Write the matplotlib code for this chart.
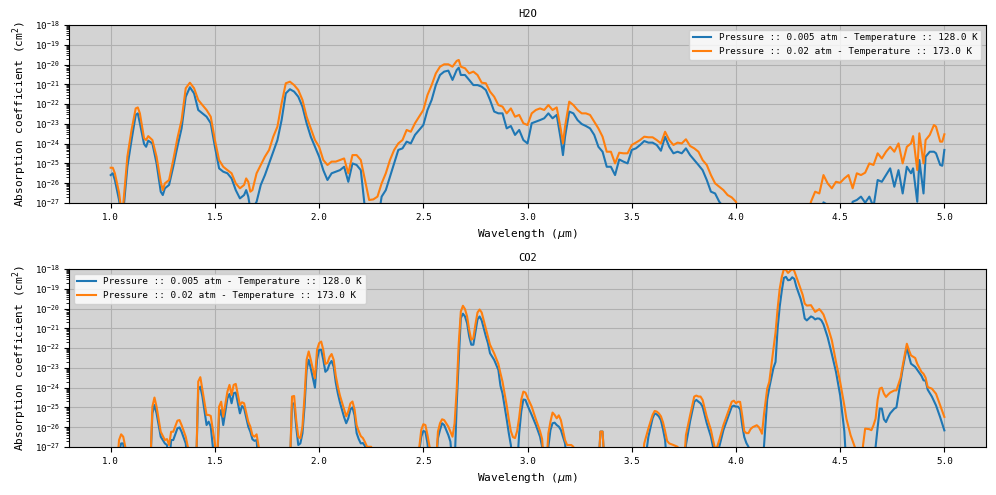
# Espectros de absorcion H2O / CO2 a dos condiciones de presion y temperatura

import numpy as np
import matplotlib.pyplot as plt

plt.rcParams['font.family'] = 'DejaVu Sans Mono'
plt.rcParams['font.size'] = 8

etiqueta_baja = "Pressure :: 0.005 atm - Temperature :: 128.0 K"
etiqueta_alta = "Pressure :: 0.02 atm - Temperature :: 173.0 K"

# ---------------------------------------------------------------------------
# H2O  (valores en log10 de cm^2, -28 = fuera de la grafica)
wl_h2o = [1.00, 1.01, 1.02, 1.04, 1.05, 1.06, 1.08, 1.10, 1.12, 1.13, 1.14, 1.16, 1.17, 1.18, 1.20,
          1.22, 1.24, 1.25, 1.26, 1.28, 1.30, 1.32, 1.34, 1.36, 1.38, 1.40, 1.42, 1.44, 1.46, 1.48,
          1.50, 1.52, 1.54, 1.56, 1.58, 1.60, 1.62, 1.64, 1.65, 1.66, 1.67, 1.68, 1.70, 1.72, 1.74, 1.76,
          1.78, 1.80, 1.82, 1.84, 1.86, 1.88, 1.90, 1.92, 1.94, 1.96, 1.98, 2.00, 2.02, 2.04, 2.06,
          2.08, 2.10, 2.12, 2.14, 2.16, 2.18, 2.20, 2.22, 2.24, 2.26, 2.28, 2.30, 2.32, 2.34, 2.36,
          2.38, 2.40, 2.42, 2.44, 2.46, 2.48, 2.50, 2.52, 2.54, 2.56, 2.58, 2.60, 2.62, 2.64, 2.66,
          2.67, 2.68, 2.70, 2.72, 2.74, 2.76, 2.78, 2.80, 2.82, 2.84, 2.86, 2.88, 2.90, 2.92, 2.94,
          2.96, 2.98, 3.00, 3.02, 3.04, 3.06, 3.08, 3.10, 3.12, 3.14, 3.16, 3.17, 3.18, 3.20, 3.22,
          3.24, 3.26, 3.28, 3.30, 3.32, 3.34, 3.36, 3.38, 3.40, 3.42, 3.44, 3.46, 3.48, 3.50, 3.52,
          3.54, 3.56, 3.58, 3.60, 3.62, 3.64, 3.66, 3.68, 3.70, 3.72, 3.74, 3.76, 3.78, 3.80, 3.82,
          3.84, 3.86, 3.88, 3.90, 3.92, 3.94, 3.96, 3.98, 4.00, 4.01, 4.34, 4.36, 4.38, 4.40,
          4.42, 4.44, 4.46, 4.48, 4.50, 4.52, 4.54, 4.56, 4.58, 4.60, 4.62, 4.64, 4.66, 4.68, 4.70,
          4.72, 4.74, 4.76, 4.78, 4.80, 4.82, 4.84, 4.85, 4.87, 4.88, 4.90, 4.91, 4.93, 4.95, 4.96, 4.98, 4.99, 5.00]

h2o_alta = [-25.22, -25.22, -25.50, -26.48, -27.3, -27.1, -24.66, -23.31, -22.22, -22.17, -22.47, -23.73, -23.82, -23.62, -23.82,
            -24.66, -25.93, -26.35, -26.01, -25.84, -24.83, -23.73, -22.81, -21.20, -20.92, -21.20, -21.79, -22.05, -22.30, -22.64,
            -23.82, -24.83, -25.17, -25.34, -25.50, -26.01, -26.26, -26.09, -25.76, -25.93, -26.43, -26.35, -25.50, -25.08, -24.66, -24.32,
            -23.65, -23.14, -21.96, -20.95, -20.87, -21.04, -21.29, -21.79, -22.64, -23.23, -23.82, -24.16, -24.83, -25.08, -24.91,
            -24.91, -24.83, -24.75, -25.50, -24.58, -24.58, -24.83, -25.84, -26.85, -26.82, -26.68, -26.01, -25.50, -24.83, -24.32,
            -23.99, -23.82, -23.31, -23.40, -22.97, -22.64, -22.30, -21.54, -21.04, -20.45, -20.11, -19.99, -19.99, -20.11, -19.82,
            -19.77, -20.11, -20.19, -20.45, -20.36, -20.53, -20.92, -20.95, -21.37, -21.63, -22.05, -22.13, -22.47, -22.22, -22.64,
            -22.55, -22.97, -23.06, -22.47, -22.30, -22.22, -22.30, -22.05, -22.30, -22.17, -23.31, -23.99, -23.14, -21.88, -22.05,
            -22.30, -22.47, -22.47, -22.55, -22.89, -23.23, -23.65, -24.41, -24.41, -25.00, -24.46, -24.49, -24.49, -24.07, -23.95,
            -23.82, -23.65, -23.68, -23.68, -23.82, -23.99, -23.40, -23.82, -24.07, -23.95, -23.99, -23.78, -24.12, -24.24, -24.41,
            -24.83, -25.08, -25.59, -26.01, -26.18, -26.35, -26.60, -26.72, -26.94, -27.3, -28.0, -26.94, -26.43, -26.52,
            -25.59, -26.01, -26.26, -25.93, -25.98, -25.76, -25.59, -26.26, -25.50, -25.59, -25.47, -25.00, -25.08, -24.49, -24.75,
            -24.41, -24.16, -24.41, -23.99, -25.00, -24.16, -23.99, -23.62, -25.34, -23.48, -25.00, -23.82, -23.56, -23.06, -23.14, -23.90, -23.90, -23.53]

h2o_baja = [-25.59, -25.50, -25.84, -26.85, -27.5, -27.5, -25.17, -23.82, -22.55, -22.47, -22.97, -24.02, -24.16, -23.85, -23.99,
            -25.00, -26.43, -26.60, -26.26, -26.09, -25.17, -24.16, -23.23, -21.63, -21.15, -21.46, -22.30, -22.47, -22.64, -22.97,
            -24.16, -25.25, -25.42, -25.50, -25.76, -26.35, -26.77, -26.60, -26.35, -26.68, -27.3, -27.3, -26.94, -26.09, -25.59, -25.00,
            -24.41, -23.82, -22.81, -21.46, -21.25, -21.37, -21.63, -22.13, -22.97, -23.65, -24.16, -24.66, -25.34, -25.84, -25.50,
            -25.42, -25.34, -25.17, -25.93, -25.00, -25.08, -25.34, -27.3, -28.0, -28.0, -28.0, -26.68, -26.35, -25.67, -25.00,
            -24.32, -24.24, -23.90, -23.99, -23.56, -23.31, -23.06, -22.30, -21.79, -21.04, -20.53, -20.36, -20.31, -20.78, -20.28,
            -20.16, -20.53, -20.53, -20.78, -21.04, -21.04, -21.12, -21.29, -21.79, -22.38, -22.47, -22.47, -23.23, -23.11, -23.56,
            -23.31, -23.82, -23.99, -22.97, -22.89, -22.81, -22.72, -22.47, -22.72, -22.55, -23.82, -24.58, -23.65, -22.38, -22.47,
            -22.81, -23.01, -23.11, -23.23, -23.56, -24.16, -24.41, -25.17, -25.17, -25.59, -24.80, -24.91, -25.00, -24.32, -24.24,
            -24.07, -23.87, -23.95, -23.95, -24.07, -24.36, -23.65, -24.16, -24.49, -24.41, -24.49, -24.24, -24.58, -24.83, -25.08,
            -25.34, -25.84, -26.43, -26.52, -26.94, -27.2, -28.0, -28.0, -28.0, -28.0, -28.0, -28.0, -28.0, -28.0,
            -26.97, -27.1, -28.0, -28.0, -28.0, -28.0, -28.0, -26.94, -26.85, -26.68, -26.99, -26.68, -27.2, -25.84, -25.93,
            -25.59, -25.25, -26.18, -25.34, -26.52, -25.17, -25.50, -25.25, -26.94, -24.83, -26.52, -24.66, -24.41, -24.41, -24.49, -25.08, -25.12, -24.32]

# ---------------------------------------------------------------------------
# CO2
wl_co2 = [1.00, 1.03, 1.04, 1.05, 1.06, 1.07, 1.08, 1.19, 1.20, 1.21, 1.22, 1.24, 1.26, 1.27, 1.28,
          1.29, 1.30, 1.32, 1.33, 1.34, 1.36, 1.37, 1.38, 1.41, 1.42, 1.43, 1.44, 1.46, 1.47, 1.48,
          1.50, 1.51, 1.52, 1.53, 1.54, 1.56, 1.57, 1.58, 1.59, 1.60, 1.62, 1.63, 1.64, 1.66, 1.67,
          1.68, 1.69, 1.70, 1.71, 1.72, 1.86, 1.87, 1.88, 1.89, 1.90, 1.91, 1.92, 1.93, 1.94, 1.95,
          1.96, 1.98, 1.99, 2.00, 2.01, 2.02, 2.03, 2.04, 2.05, 2.06, 2.07, 2.08, 2.09, 2.10, 2.12,
          2.13, 2.14, 2.15, 2.16, 2.17, 2.18, 2.19, 2.20, 2.21, 2.22, 2.23, 2.25, 2.26, 2.47, 2.49,
          2.50, 2.51, 2.52, 2.53, 2.56, 2.57, 2.58, 2.59, 2.60, 2.61, 2.62, 2.63, 2.64, 2.65, 2.66,
          2.67, 2.68, 2.69, 2.70, 2.71, 2.72, 2.73, 2.74, 2.75, 2.76, 2.77, 2.78, 2.80, 2.81, 2.82,
          2.84, 2.86, 2.87, 2.88, 2.90, 2.91, 2.92, 2.93, 2.94, 2.95, 2.96, 2.97, 2.98, 2.99, 3.00,
          3.02, 3.04, 3.06, 3.07, 3.08, 3.09, 3.10, 3.11, 3.12, 3.13, 3.14, 3.15, 3.16, 3.17, 3.18,
          3.19, 3.21, 3.22, 3.23, 3.34, 3.35, 3.36, 3.37, 3.55, 3.56, 3.58, 3.60, 3.61, 3.62, 3.63,
          3.64, 3.65, 3.66, 3.67, 3.68, 3.70, 3.72, 3.73, 3.75, 3.76, 3.78, 3.80, 3.81, 3.82, 3.83,
          3.84, 3.86, 3.88, 3.89, 3.90, 3.91, 3.92, 3.94, 3.96, 3.98, 3.99, 4.00, 4.01, 4.02, 4.03,
          4.04, 4.05, 4.06, 4.07, 4.08, 4.10, 4.11, 4.12, 4.125, 4.135, 4.15, 4.16, 4.18, 4.19, 4.20,
          4.21, 4.22, 4.23, 4.24, 4.25, 4.26, 4.27, 4.28, 4.29, 4.30, 4.31, 4.32, 4.33, 4.34, 4.36,
          4.37, 4.38, 4.39, 4.40, 4.41, 4.42, 4.44, 4.46, 4.48, 4.50, 4.52, 4.53, 4.55, 4.57, 4.58,
          4.60, 4.61, 4.62, 4.64, 4.65, 4.66, 4.67, 4.68, 4.69, 4.70, 4.71, 4.72, 4.73, 4.74, 4.76,
          4.77, 4.79, 4.80, 4.82, 4.83, 4.84, 4.86, 4.87, 4.89, 4.90, 4.91, 4.92, 4.94, 4.96, 4.98, 5.00]

co2_alta = [-28.0, -28.0, -26.65, -26.36, -26.48, -26.99, -28.0, -28.0, -24.96, -24.50, -24.96, -26.23, -26.65, -26.60, -26.90,
            -26.23, -26.23, -25.67, -25.64, -25.89, -26.48, -26.99, -28.0, -28.0, -23.69, -23.47, -24.11, -25.38, -25.38, -25.43,
            -26.82, -28.0, -24.96, -24.71, -25.47, -24.20, -23.86, -24.37, -23.86, -23.81, -24.88, -24.74, -24.79, -25.72, -25.97,
            -26.40, -26.48, -26.36, -26.99, -28.0, -28.0, -24.45, -24.42, -25.64, -26.48, -26.56, -25.97, -24.45, -22.59, -22.17,
            -22.59, -23.52, -22.09, -21.75, -21.67, -22.09, -22.80, -22.75, -22.45, -22.30, -22.60, -23.40, -23.95, -24.40, -25.10,
            -25.45, -25.20, -24.80, -24.70, -25.10, -25.90, -26.20, -26.45, -26.55, -26.75, -26.99, -26.99, -28.0, -28.0, -26.14,
            -25.85, -25.89, -26.40, -26.99, -28.0, -26.23, -25.80, -25.60, -25.64, -25.80, -25.97, -26.23, -26.48, -25.80, -24.11,
            -21.75, -20.15, -19.86, -20.03, -20.40, -21.07, -21.58, -21.50, -20.80, -20.20, -20.05, -20.20, -21.00, -21.42, -21.83,
            -22.27, -22.80, -23.27, -23.70, -24.90, -25.60, -26.20, -26.50, -26.55, -26.20, -25.50, -24.60, -24.20, -24.25, -24.50,
            -24.96, -25.60, -26.20, -26.60, -28.0, -28.0, -26.31, -25.72, -25.26, -25.38, -25.55, -25.40, -25.64, -26.14, -26.65,
            -26.90, -26.90, -26.99, -28.0, -28.0, -26.22, -26.22, -28.0, -28.0, -26.82, -26.06, -25.38, -25.18, -25.21, -25.30,
            -25.45, -25.75, -26.20, -26.70, -26.82, -26.90, -26.99, -28.0, -28.0, -26.40, -25.40, -24.45, -24.40, -24.45, -24.45,
            -24.62, -25.47, -26.14, -26.65, -27.10, -26.99, -26.65, -25.89, -25.30, -24.71, -24.66, -24.79, -24.71, -24.72, -25.40,
            -26.20, -26.30, -26.30, -26.10, -26.00, -25.90, -26.00, -26.20, -26.33, -25.30, -24.05, -23.70, -22.03, -21.20, -20.00,
            -19.00, -18.40, -18.00, -18.05, -18.20, -18.10, -18.00, -18.10, -18.40, -18.70, -19.00, -19.30, -19.75, -19.85, -19.83,
            -20.00, -20.17, -20.10, -20.03, -20.15, -20.30, -20.90, -21.60, -22.70, -23.71, -24.90, -25.57, -26.40, -26.99, -28.0,
            -28.0, -26.90, -26.07, -26.10, -26.15, -25.90, -25.57, -24.60, -24.05, -24.00, -24.30, -24.47, -24.35, -24.25, -24.14,
            -24.14, -23.50, -22.90, -21.78, -22.10, -22.37, -22.50, -22.80, -23.20, -23.30, -23.50, -23.97, -24.05, -24.31, -24.90, -25.48]

co2_baja = [-28.0, -28.0, -27.3, -26.82, -26.82, -28.0, -28.0, -28.0, -25.30, -24.88, -25.30, -26.48, -26.82, -26.90, -28.0,
            -26.65, -26.65, -26.06, -26.01, -26.23, -26.82, -28.0, -28.0, -28.0, -24.11, -23.95, -24.45, -25.89, -25.72, -25.97,
            -28.0, -28.0, -25.47, -25.13, -25.89, -24.54, -24.32, -24.79, -24.28, -24.25, -25.30, -24.93, -25.04, -25.97, -26.23,
            -26.61, -26.69, -26.65, -28.0, -28.0, -28.0, -24.82, -24.79, -25.97, -26.90, -26.82, -26.31, -24.96, -23.10, -22.59,
            -23.02, -24.00, -22.59, -22.09, -22.09, -22.59, -23.20, -23.10, -22.80, -22.65, -22.95, -23.75, -24.30, -24.75, -25.50,
            -25.80, -25.55, -25.10, -25.00, -25.40, -26.30, -26.60, -26.82, -26.80, -26.95, -28.0, -28.0, -28.0, -28.0, -26.48,
            -26.19, -26.23, -26.82, -28.0, -28.0, -26.56, -26.14, -25.80, -25.89, -26.14, -26.40, -26.73, -28.0, -28.0, -24.88,
            -22.59, -20.48, -20.26, -20.40, -20.74, -21.41, -21.83, -21.83, -21.20, -20.55, -20.40, -20.60, -21.40, -21.75, -22.26,
            -22.60, -23.10, -23.90, -24.30, -25.60, -26.30, -26.90, -28.0, -28.0, -28.0, -26.30, -25.20, -24.60, -24.62, -24.90,
            -25.38, -25.89, -26.48, -26.99, -28.0, -28.0, -26.99, -26.14, -25.80, -25.77, -25.89, -25.97, -26.14, -26.48, -26.82,
            -28.0, -28.0, -28.0, -28.0, -28.0, -26.22, -26.22, -28.0, -28.0, -28.0, -26.48, -25.55, -25.30, -25.35, -25.45,
            -25.65, -26.10, -26.65, -28.0, -28.0, -28.0, -28.0, -28.0, -28.0, -26.90, -25.70, -24.71, -24.62, -24.71, -24.79,
            -24.96, -25.80, -26.48, -26.99, -28.0, -28.0, -26.99, -26.14, -25.55, -24.96, -24.91, -24.96, -24.96, -25.10, -25.90,
            -26.50, -26.80, -26.99, -28.0, -28.0, -28.0, -28.0, -28.0, -28.0, -26.90, -24.60, -24.00, -23.00, -22.70, -21.00,
            -19.90, -19.10, -18.45, -18.40, -18.57, -18.55, -18.42, -18.50, -18.90, -19.20, -19.50, -19.90, -20.50, -20.60, -20.40,
            -20.45, -20.55, -20.50, -20.51, -20.60, -20.80, -21.45, -22.30, -23.20, -24.39, -26.20, -28.0, -28.0, -28.0, -28.0,
            -28.0, -28.0, -28.0, -28.0, -28.0, -28.0, -26.99, -26.00, -25.06, -25.06, -25.60, -25.74, -25.50, -25.30, -25.06,
            -25.00, -23.71, -23.04, -21.94, -22.40, -22.79, -22.95, -23.10, -23.40, -23.63, -23.65, -24.10, -24.45, -24.90, -25.50, -26.16]


def dibujar(ax, wl, baja, alta, titulo, pos_leyenda):
    ax.plot(wl, 10.0 ** np.array(baja), label=etiqueta_baja)
    ax.plot(wl, 10.0 ** np.array(alta), label=etiqueta_alta)
    ax.set_yscale('log')
    ax.set_ylim(1e-27, 1e-18)
    ax.set_xlim(0.8, 5.2)
    ax.set_facecolor('lightgray')
    ax.grid(True)
    ax.set_axisbelow(True)
    ax.set_title(titulo, fontsize=7.5)
    ax.set_xlabel(r'Wavelength ($\mu$m)', fontsize=8)
    ax.set_ylabel(r'Absorption coefficient (cm$^2$)', fontsize=8)
    ax.tick_params(labelsize=6.7)
    ax.legend(loc=pos_leyenda, fontsize=6.7)


fig = plt.figure(figsize=(9.96, 4.95), dpi=100)
ax1 = fig.add_axes([0.0693, 0.590, 0.9207, 0.3596])
ax2 = fig.add_axes([0.0693, 0.097, 0.9207, 0.3596])

dibujar(ax1, wl_h2o, h2o_baja, h2o_alta, 'H2O', 'upper right')
dibujar(ax2, wl_co2, co2_baja, co2_alta, 'CO2', 'upper left')

fig.savefig('out.png', dpi=100)
